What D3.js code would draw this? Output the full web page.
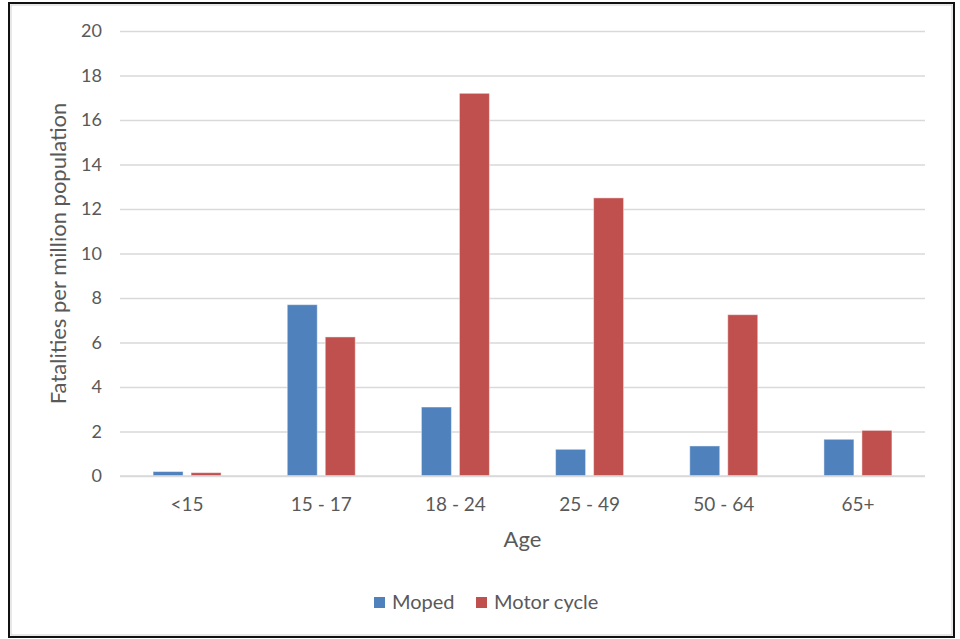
<!DOCTYPE html>
<html>
<head>
<meta charset="utf-8">
<script src="https://cdn.jsdelivr.net/npm/d3@7"></script>
<style>
  html, body { margin: 0; padding: 0; background: #fff; }
  svg { display: block; }
  text { font-family: Lato, "Open Sans", sans-serif; fill: #595959; }
</style>
</head>
<body>
<svg id="chart" width="960" height="639"></svg>
<script>
// Fatalities per million population, by age group
const categories = ["<15", "15 - 17", "18 - 24", "25 - 49", "50 - 64", "65+"];
const seriesNames = ["Moped", "Motor cycle"];
const moped = [0.2, 7.7, 3.1, 1.2, 1.35, 1.65];
const motorCycle = [0.15, 6.25, 17.2, 12.5, 7.25, 2.05];
const yTicks = [0, 2, 4, 6, 8, 10, 12, 14, 16, 18, 20];
const colors = ["#4F81BD", "#C0504D"];

const svg = d3.select("#chart");
const plot = { left: 120, right: 925, top: 31, bottom: 476 };

// outer frame
svg.append("rect").attr("x", 9).attr("y", 3).attr("width", 945).attr("height", 634)
  .attr("fill", "#fff").attr("stroke", "#111").attr("stroke-width", 2);
svg.append("rect").attr("x", 11).attr("y", 5).attr("width", 941).attr("height", 630)
  .attr("fill", "none").attr("stroke", "#d0d0d0").attr("stroke-width", 1);

const x0 = d3.scaleBand().domain(categories).range([plot.left, plot.right]);
const groupW = 68;
const x1 = d3.scaleBand().domain(seriesNames)
  .range([(x0.bandwidth() - groupW) / 2, (x0.bandwidth() + groupW) / 2])
  .paddingInner(0.2105);
const y = d3.scaleLinear().domain([0, 20]).range([plot.bottom, plot.top]);

// gridlines and y tick labels
const yAxis = d3.axisLeft(y).tickValues(yTicks)
  .tickSize(-(plot.right - plot.left)).tickPadding(18).tickFormat(d3.format("d"));
const gy = svg.append("g").attr("transform", `translate(${plot.left},0)`).call(yAxis);
gy.select(".domain").remove();
gy.selectAll(".tick line").attr("stroke", "#d9d9d9").attr("stroke-width", 1.3);
gy.selectAll(".tick text").style("font-size", "18px").attr("fill", "#595959");

// bars
const rows = categories.map((c, i) => ({ cat: c, vals: [moped[i], motorCycle[i]] }));
const groups = svg.append("g").selectAll("g").data(rows).join("g")
  .attr("transform", d => `translate(${x0(d.cat)},0)`);
groups.selectAll("rect").data(d => d.vals.map((v, k) => ({ key: seriesNames[k], v, k })))
  .join("rect")
  .attr("x", d => x1(d.key))
  .attr("width", x1.bandwidth())
  .attr("y", d => y(d.v))
  .attr("height", d => y(0) - y(d.v))
  .attr("fill", d => colors[d.k])
  .attr("stroke", "rgba(255,255,255,0.45)")
  .attr("stroke-width", 1);

// x axis baseline and labels
svg.append("line").attr("x1", plot.left).attr("x2", plot.right)
  .attr("y1", y(0)).attr("y2", y(0)).attr("stroke", "#d9d9d9").attr("stroke-width", 1.3);
const xAxis = d3.axisBottom(x0).tickSize(0).tickPadding(22);
const gx = svg.append("g").attr("transform", `translate(0,${plot.bottom})`).call(xAxis);
gx.select(".domain").remove();
gx.selectAll(".tick text").style("font-size", "19px").attr("fill", "#595959");

// axis titles
svg.append("text").attr("x", (plot.left + plot.right) / 2).attr("y", 547)
  .attr("text-anchor", "middle").style("font-size", "22px").text("Age");
svg.append("text")
  .attr("transform", `translate(66,${(plot.top + plot.bottom) / 2}) rotate(-90)`)
  .attr("text-anchor", "middle").style("font-size", "22px")
  .text("Fatalities per million population");

// legend
const legendItems = [{ name: seriesNames[0], x: 374 }, { name: seriesNames[1], x: 476 }];
const lg = svg.append("g").selectAll("g").data(legendItems).join("g")
  .attr("transform", d => `translate(${d.x},597)`);
lg.append("rect").attr("width", 11).attr("height", 11)
  .attr("fill", (d, i) => colors[i]);
lg.append("text").attr("x", 18).attr("y", 12).style("font-size", "20px").text(d => d.name);
</script>
</body>
</html>
